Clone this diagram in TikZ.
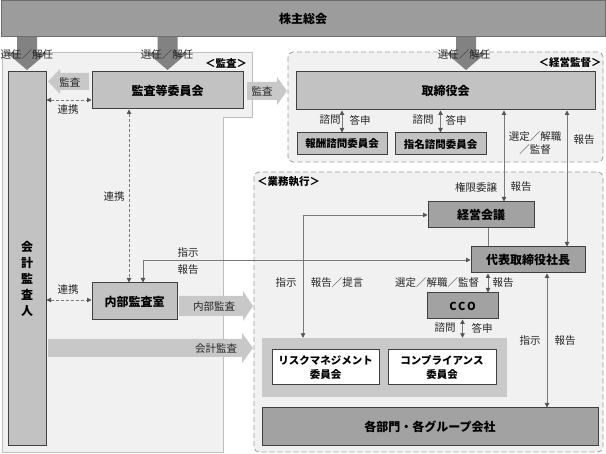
\documentclass[tikz,border=0pt]{standalone}
\usepackage{fontspec}
\setmainfont{Noto Sans CJK JP}
\usetikzlibrary{arrows.meta}
\definecolor{boxline}{HTML}{404040}
\definecolor{lightbox}{HTML}{C2C2C2}
\definecolor{darkbox}{HTML}{A2A2A2}
\definecolor{topbar}{HTML}{9C9C9C}
\definecolor{bigarrow}{HTML}{828282}
\definecolor{flatarrow}{HTML}{C8C8C8}
\definecolor{linec}{HTML}{7A7A7A}
\definecolor{tipc}{HTML}{555555}
\definecolor{regionfill}{HTML}{F1F1F1}
\definecolor{regionline}{HTML}{BDBDBD}
\definecolor{dashline}{HTML}{9A9A9A}
\definecolor{groupfill}{HTML}{C9C9C9}
\begin{document}
\begin{tikzpicture}[x=1pt,y=-1pt,
  box/.style={draw=boxline, line width=1pt, inner sep=0pt, font=\fontsize{12}{14}\selectfont\bfseries},
  smallbox/.style={box, font=\fontsize{10.5}{13}\selectfont\bfseries},
  boxtext/.style={inner sep=0pt, font=\fontsize{12}{16}\selectfont\bfseries},
  lbl/.style={inner sep=0pt, font=\fontsize{10.5}{12.5}\selectfont, text=black!85},
  conn/.style={draw=linec, line width=0.9pt},
  dbl/.style={conn, {Triangle[length=4.5pt,width=4.5pt,color=tipc]}-{Triangle[length=4.5pt,width=4.5pt,color=tipc]}},
  dashdbl/.style={dbl, dashed, dash pattern=on 3pt off 2pt},
  regiontitle/.style={inner sep=0pt, font=\fontsize{10.5}{12}\selectfont\bfseries},
]
\useasboundingbox (0,0) rectangle (606,454);

% helper coordinates
\coordinate (c129) at (129,0);
\coordinate (c143) at (143,0);
\coordinate (c303) at (303,0);
\coordinate (c488) at (488,0);
\coordinate (c504) at (504,0);
\coordinate (c547) at (547,0);
\coordinate (c567) at (567,0);
\coordinate (r100) at (0,100);
\coordinate (r300) at (0,300);

% regions
\draw[regionline, fill=regionfill, line width=0.8pt] (2,52) -- (252,52) -- (252,117) -- (223,117) -- (223,452) -- (2,452) -- cycle;
\draw[dashline, fill=regionfill, line width=0.8pt, dashed, dash pattern=on 5pt off 3pt, rounded corners=5] (288,52) rectangle (603,162);
\draw[dashline, fill=regionfill, line width=0.8pt, dashed, dash pattern=on 5pt off 3pt, rounded corners=5] (254,172) rectangle (603,452);

\node[regiontitle] (lkansa) at (226,63) {＜監査＞};
\node[regiontitle] (lkeiei) at (570,63) {＜経営監督＞};
\node[regiontitle, anchor=west] (lgyomu) at (257,182) {＜業務執行＞};

% top bar
\node[box, fill=topbar, draw=topbar!70!black, minimum width=604, minimum height=36] (sh) at (303,19) {株主総会};

% thick arrows from the top bar
\foreach \cx in {27, 167.5, 466} {
  \fill[bigarrow] (\cx-10,37) -- (\cx+10,37) -- (\cx+10,53) -- (\cx+20,53) -- (\cx,70) -- (\cx-20,53) -- (\cx-10,53) -- cycle;
}
\node[lbl] (s1) at (27,55) {選任／解任};
\node[lbl] (s2) at (167,55) {選任／解任};
\node[lbl] (s3) at (464,55) {選任／解任};

% flat arrows
\fill[flatarrow] (89,73) -- (60,73) -- (60,69) -- (48,81.5) -- (60,94) -- (60,90) -- (89,90) -- cycle;
\node[lbl] (la1) at (70,82) {監査};
\fill[flatarrow] (247,82) -- (277,82) -- (277,77) -- (287,91) -- (277,105) -- (277,100) -- (247,100) -- cycle;
\node[lbl] (la2) at (262,91) {監査};
\fill[flatarrow] (179,296) -- (243,296) -- (243,291) -- (253,306) -- (243,321) -- (243,316) -- (179,316) -- cycle;
\node[lbl] (la3) at (214,307) {内部監査};
\fill[flatarrow] (48,339) -- (242,339) -- (242,333) -- (253,348) -- (242,363) -- (242,357) -- (48,357) -- cycle;
\node[lbl] (la4) at (216,349) {会計監査};

% boxes
\node[box, fill=lightbox, minimum width=38, minimum height=374] (kaikei) at (27,259) {};
\node[boxtext, align=center] (kaikeit) at (27,279) {会\\計\\監\\査\\人};
\node[box, fill=lightbox, minimum width=151, minimum height=37] (kansa) at (167.5,90.5) {監査等委員会};
\node[box, fill=lightbox, minimum width=299, minimum height=38] (tori) at (445.5,91) {取締役会};
\node[smallbox, fill=lightbox, minimum width=90, minimum height=22] (hoshu) at (342,144) {報酬諮問委員会};
\node[smallbox, fill=lightbox, minimum width=91, minimum height=22] (shimei) at (440.5,144) {指名諮問委員会};
\node[box, fill=darkbox, minimum width=106, minimum height=26] (keiei) at (481,215) {経営会議};
\node[box, fill=darkbox, minimum width=114, minimum height=26] (ceo) at (528,260) {代表取締役社長};
\node[box, fill=darkbox, minimum width=71, minimum height=26, font=\fontsize{11}{13}\selectfont\bfseries] (cco) at (462.5,306) {C\hspace{1.5pt}C\hspace{1.5pt}O};
\node[fill=groupfill, minimum width=245, minimum height=59, inner sep=0pt] (grp) at (384.5,367.5) {};
\node[smallbox, fill=white, minimum width=107, minimum height=35, align=center, font=\fontsize{10.5}{13.5}\selectfont\bfseries] (risk) at (325.5,367.5) {リスクマネジメント\\委員会};
\node[smallbox, fill=white, minimum width=108, minimum height=35, align=center, font=\fontsize{10.5}{13.5}\selectfont\bfseries] (comp) at (442,367.5) {コンプライアンス\\委員会};
\node[box, fill=darkbox, minimum width=336, minimum height=38] (bumon) at (430,427) {各部門・各グループ会社};
\node[box, fill=lightbox, minimum width=85, minimum height=37] (naibu) at (134.5,301.5) {内部監査室};

% connectors
\draw[dbl] (hoshu.north |- tori.south) -- (hoshu.north);
\node[lbl] (q1) at (330,120) {諮問};
\node[lbl] (q2) at (360,120) {答申};
\draw[dbl] (shimei.north |- tori.south) -- (shimei.north);
\node[lbl] (q3) at (423,120) {諮問};
\node[lbl] (q4) at (456,120) {答申};

\draw[dbl] (c504 |- tori.south) -- (c504 |- keiei.north);
\node[lbl, align=center, font=\fontsize{10.5}{13}\selectfont] (sel1) at (535,143) {選定／解職\\／監督};
\node[lbl] (rk1) at (476,187) {権限委譲};
\node[lbl] (rp1) at (521,187) {報告};

\draw[dbl] (c567 |- tori.south) -- (c567 |- ceo.north);
\node[lbl] (rp2) at (584,140) {報告};

\draw[conn] (c488 |- keiei.south) -- (c488 |- ceo.north);

\draw[dbl] (c488 |- ceo.south) -- (c488 |- cco.north);
\node[lbl] (sel2) at (437,283) {選定／解職／監督};
\node[lbl] (rp3) at (503,283) {報告};

\draw[dbl] (cco.south) -- (cco.south |- grp.north);
\node[lbl] (q5) at (445,328) {諮問};
\node[lbl] (q6) at (482,328) {答申};

\draw[dbl] (c547 |- ceo.south) -- (c547 |- bumon.north);
\node[lbl] (ij1) at (530,341) {指示};
\node[lbl] (rp4) at (565,341) {報告};

\draw[dbl] (ceo.west) -| (c143 |- naibu.north);
\node[lbl] (ij2) at (188,253) {指示};
\node[lbl] (rp5) at (188,270) {報告};

\draw[dbl] (keiei.west) -| (c303 |- grp.north);
\node[lbl] (ij3) at (286,283) {指示};
\node[lbl] (rp6) at (337,283) {報告／提言};

\draw[dashdbl] (kaikei.east |- r100) -- (kansa.west |- r100);
\node[lbl] (rk2) at (68,110) {連携};
\draw[dashdbl] (c129 |- kansa.south) -- (c129 |- naibu.north);
\node[lbl] (rk3) at (114,197) {連携};
\draw[dashdbl] (kaikei.east |- r300) -- (naibu.west |- r300);
\node[lbl] (rk4) at (68,290) {連携};
\end{tikzpicture}
\end{document}
